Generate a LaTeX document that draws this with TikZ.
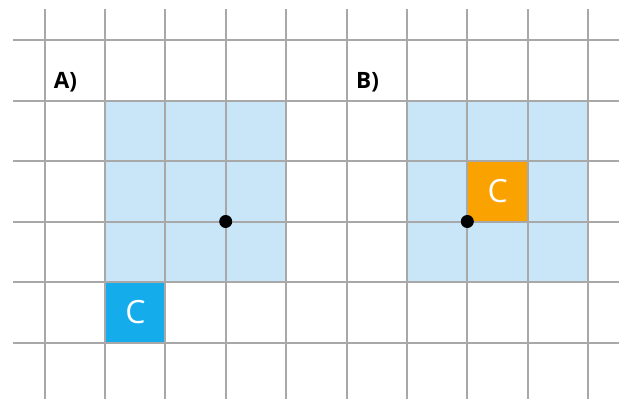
\documentclass[tikz,border=0pt]{standalone}
\usepackage{fontspec}
\setmainfont{Open Sans}
\definecolor{gridgray}{HTML}{A8A8A8}
\definecolor{lightblue}{HTML}{C8E6F8}
\definecolor{cblue}{HTML}{14ACEB}
\definecolor{corange}{HTML}{F9A200}
\begin{document}
\begin{tikzpicture}[x=1pt,y=-1pt,
  gridline/.style={draw=gridgray,line width=2pt},
  area/.style={fill=lightblue,draw=none,minimum width=181pt,minimum height=181pt,inner sep=0pt,anchor=north west},
  cbox/.style={draw=none,minimum width=60.4pt,minimum height=60.5pt,inner sep=0pt,anchor=north west,text=white,font=\fontsize{32}{32}\selectfont},
  lab/.style={font=\bfseries\fontsize{22.5}{22.5}\selectfont,inner sep=0pt},
  pivot/.style={circle,fill=black,minimum size=13pt,inner sep=0pt}]
\useasboundingbox (0,0) rectangle (626,399);
\fill[white] (0,0) rectangle (626,399);
% shaded areas
\node[area] (areaA) at (105,100.5) {};
\node[area] (areaB) at (407,100.5) {};
% C squares
\node[cbox,fill=cblue] (cA) at (105,282) {C};
\node[cbox,fill=corange] (cB) at (467.3,161) {C};
% grid
\foreach \i in {0,...,9}{
  \draw[gridline] ({44.5+60.4*\i},9) -- ({44.5+60.4*\i},399);
}
\foreach \j in {0,...,5}{
  \draw[gridline] (13,{40+60.5*\j}) -- (619,{40+60.5*\j});
}
% labels
\node[lab] (labA) at (65.5,82) {A)};
\node[lab] (labB) at (367.5,82) {B)};
% pivots
\node[pivot] (pA) at (225.7,221.5) {};
\node[pivot] (pB) at (467.3,221.5) {};
\end{tikzpicture}
\end{document}
